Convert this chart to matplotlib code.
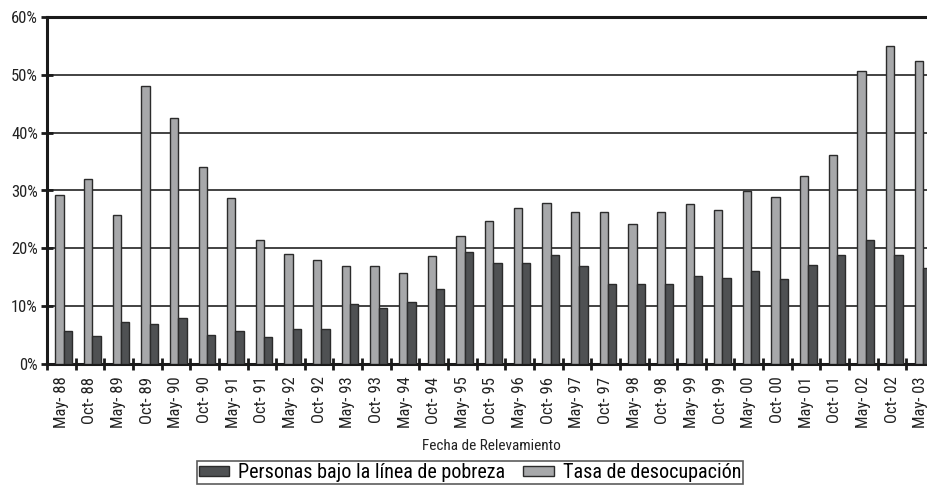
import matplotlib.pyplot as plt
import numpy as np

fechas = ["May- 88", "Oct- 88", "May- 89", "Oct- 89", "May- 90", "Oct- 90", "May- 91", "Oct- 91",
          "May- 92", "Oct- 92", "May- 93", "Oct- 93", "May- 94", "Oct- 94", "May- 95", "Oct- 95",
          "May- 96", "Oct- 96", "May- 97", "Oct- 97", "May- 98", "Oct- 98", "May- 99", "Oct- 99",
          "May- 00", "Oct- 00", "May- 01", "Oct- 01", "May- 02", "Oct- 02", "May- 03"]

# barras claras (primera de cada par)
desocupacion = [29.3, 32.0, 25.7, 48.0, 42.5, 34.0, 28.7, 21.5, 19.0, 17.9, 17.0, 17.0, 15.7, 18.7,
                22.2, 24.7, 26.9, 27.9, 26.3, 26.3, 24.2, 26.3, 27.6, 26.7, 29.9, 28.8, 32.5, 36.1,
                50.7, 54.9, 52.4]
# barras oscuras (segunda de cada par)
pobreza = [5.7, 4.9, 7.3, 6.9, 8.0, 5.0, 5.7, 4.7, 6.1, 6.1, 10.4, 9.6, 10.8, 12.9,
           19.3, 17.4, 17.5, 18.9, 16.9, 13.9, 13.9, 13.9, 15.3, 14.8, 16.0, 14.7, 17.2, 18.9,
           21.5, 18.8, 16.6]

plt.rcParams['font.family'] = ['Roboto Condensed', 'DejaVu Sans']

fig = plt.figure(figsize=(9.28, 4.86), dpi=100)
ax = fig.add_axes([47/928, 1-364/486, 888/928, 347/486])

x = np.arange(len(fechas))
w = 0.29
ax.bar(x - w/2 + 0.08, desocupacion, w, color="#a7a8aa", edgecolor="#2b2b2b", linewidth=1, zorder=3,
       label="Tasa de desocupación")
ax.bar(x + w/2 + 0.08, pobreza, w, color="#4f5153", edgecolor="#2b2b2b", linewidth=1, zorder=3,
       label="Personas bajo la línea de pobreza")

ax.set_xlim(-0.5, len(fechas) - 0.5)
ax.set_ylim(0, 60)
ax.set_yticks(range(0, 61, 10))
ax.set_yticklabels([f"{v}%" for v in range(0, 61, 10)], fontsize=12, color="#222222")
ax.yaxis.grid(True, color="#222222", linewidth=1.2, zorder=0)

ax.set_xticks(x)
ax.set_xticklabels(fechas, rotation=90, fontsize=12, color="#222222")
ax.set_xticks(np.arange(-0.5, len(fechas), 1), minor=True)
ax.tick_params(axis='x', which='major', length=0, pad=9)
ax.tick_params(axis='x', which='minor', direction='inout', length=9, width=2, color="#1a1a1a")
ax.tick_params(axis='y', direction='inout', length=9, width=2, color="#1a1a1a", pad=2)

for s in ['left', 'bottom', 'top']:
    ax.spines[s].set_linewidth(2.2)
    ax.spines[s].set_color("#1a1a1a")
ax.spines['right'].set_visible(False)

ax.set_xlabel("Fecha de Relevamiento", fontsize=11, color="#222222", labelpad=8)

h, l = ax.get_legend_handles_labels()
leg = fig.legend([h[1], h[0]], [l[1], l[0]], loc='upper center', bbox_to_anchor=(470/928, 1-461/486),
                 ncol=2, fontsize=14.5, frameon=True, fancybox=False, edgecolor="#333333",
                 handlelength=1.5, handleheight=0.35, columnspacing=0.9, handletextpad=0.45,
                 borderpad=0.1, borderaxespad=0)
leg.get_frame().set_linewidth(1.2)

fig.savefig("out.png", dpi=100)
